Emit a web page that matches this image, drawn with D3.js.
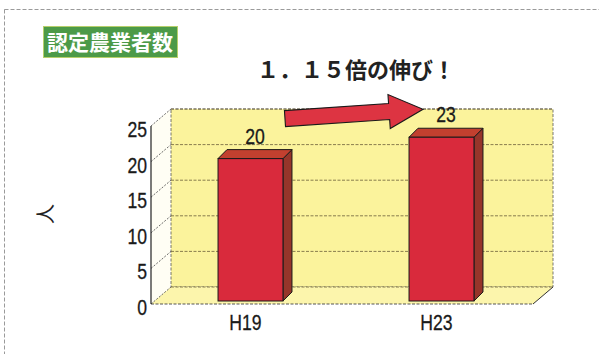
<!DOCTYPE html>
<html><head><meta charset="utf-8">
<script src="https://cdn.jsdelivr.net/npm/d3@7"></script>
<style>html,body{margin:0;padding:0;background:#fff;}svg{display:block;}</style>
</head><body>
<script>
const categories = ["H19", "H23"];
const values = [20, 23];
const yTicks = [0, 5, 10, 15, 20, 25];
const boxTitle = "認定農業者数";
const chartTitle = "１．１５倍の伸び！";
const yTitle = "人";

const W = 599, H = 354;
const svg = d3.select("body").append("svg").attr("width", W).attr("height", H);

// outer dashed frame
svg.append("rect").attr("x", 4.5).attr("y", 9.5).attr("width", 640).attr("height", 400)
  .attr("fill", "none").attr("stroke", "#9a9a9a").attr("stroke-dasharray", "4,2");

// 3D geometry
const DX = 20, DY = -17;
const x = d3.scaleBand().domain(categories).range([151, 533]).paddingInner(0.66).paddingOuter(0.33);
const y = d3.scaleLinear().domain([0, 25]).range([304, 126]);
const x0 = 151, x1 = 533;

const g = svg.append("g");
const yellow = "#fbf39c";

// condensed text helper (Arial-Narrow-like)
function narrow(parent, px, py, anchor, txt) {
  return parent.append("text")
    .attr("transform", `translate(${px},${py}) scale(0.8,1)`)
    .attr("text-anchor", anchor)
    .attr("font-family", "'Liberation Sans',Arial,sans-serif")
    .attr("font-size", 22).attr("fill", "#1a1a1a")
    .attr("stroke", "#1a1a1a").attr("stroke-width", 0.3).text(txt);
}

// side wall (white)
g.append("path").attr("d", d3.line()([[x0, y(0)], [x0 + DX, y(0) + DY], [x0 + DX, y(25) + DY], [x0, y(25)]]) + "Z")
  .attr("fill", "#fffef4").attr("stroke", "none");
// back wall
g.append("rect").attr("x", x0 + DX).attr("y", y(25) + DY).attr("width", x1 - x0).attr("height", y(0) - y(25))
  .attr("fill", yellow).attr("stroke", "#555").attr("stroke-width", 0.8).attr("stroke-dasharray", "3,1.5");
// floor
g.append("path").attr("d", d3.line()([[x0, y(0)], [x0 + DX, y(0) + DY], [x1 + DX, y(0) + DY], [x1, y(0)]]) + "Z")
  .attr("fill", "#fcf5ac").attr("stroke", "none");
g.append("line").attr("x1", x0).attr("x2", x1).attr("y1", y(0)).attr("y2", y(0))
  .attr("stroke", "#444").attr("stroke-width", 0.9).attr("stroke-dasharray", "3,1.5");
g.append("line").attr("x1", x1).attr("x2", x1 + DX).attr("y1", y(0)).attr("y2", y(0) + DY)
  .attr("stroke", "#333").attr("stroke-width", 1);

// gridlines on back wall and side wall diagonals
yTicks.forEach(v => {
  g.append("line").attr("x1", x0 + DX).attr("x2", x1 + DX).attr("y1", y(v) + DY).attr("y2", y(v) + DY)
    .attr("stroke", "#6b5e3a").attr("stroke-width", 0.8).attr("stroke-dasharray", "3,1.5");
  g.append("line").attr("x1", x0).attr("x2", x0 + DX).attr("y1", y(v)).attr("y2", y(v) + DY)
    .attr("stroke", "#444").attr("stroke-width", 0.8).attr("stroke-dasharray", "2,1.5");
});
// front axis
g.append("line").attr("x1", x0).attr("x2", x0).attr("y1", y(0)).attr("y2", y(25))
  .attr("stroke", "#222").attr("stroke-width", 1.2);

// tick labels
yTicks.forEach(v => narrow(g, 147, y(v) + 11, "end", v));

// bars
const OX = 4, OY = -3, BDX = 9, BDY = -9;
const bw = x.bandwidth();
const bars = g.selectAll("g.bar").data(values.map((v, i) => ({ c: categories[i], v }))).join("g").attr("class", "bar");
bars.each(function (d) {
  const s = d3.select(this);
  const L = x(d.c) + OX, R = L + bw, T = y(d.v) + OY, B = y(0) + OY;
  s.append("path").attr("d", d3.line()([[R, B], [R + BDX, B + BDY], [R + BDX, T + BDY], [R, T]]) + "Z")
    .attr("fill", "#96352a").attr("stroke", "#1a1a1a").attr("stroke-width", 1).attr("stroke-linejoin", "round");
  s.append("path").attr("d", d3.line()([[L, T], [L + BDX, T + BDY], [R + BDX, T + BDY], [R, T]]) + "Z")
    .attr("fill", "#c2402f").attr("stroke", "#1a1a1a").attr("stroke-width", 1).attr("stroke-linejoin", "round");
  s.append("rect").attr("x", L).attr("y", T).attr("width", bw).attr("height", B - T)
    .attr("fill", "#d92a3c").attr("stroke", "#1a1a1a").attr("stroke-width", 1);
  narrow(s, L + bw / 2 + BDX / 2, T + BDY - 6, "middle", d.v);
});

// category labels
categories.forEach(c => narrow(g, x(c) + bw / 2 - 1, 330, "middle", c));

// arrow from bar1 to bar2
(function () {
  const tailX = x(categories[0]) + bw + OX + 2, tailY = y(values[0]) - 43;
  const tipX = x(categories[1]) + OX + 14, tipY = y(values[1]) - 31;
  const ang = Math.atan2(tipY - tailY, tipX - tailX) * 180 / Math.PI;
  const len = Math.hypot(tipX - tailX, tipY - tailY);
  const sw = 8, hw = 17, hl = 34;
  const pts = [[0, -sw], [len - hl, -sw], [len - hl, -hw], [len, 0], [len - hl, hw], [len - hl, sw], [0, sw]];
  g.append("path").attr("d", d3.line()(pts) + "Z")
    .attr("transform", `translate(${tailX},${tailY}) rotate(${ang})`)
    .attr("fill", "#dd3442").attr("stroke", "#1a1a1a").attr("stroke-width", 1.1).attr("stroke-linejoin", "miter");
})();

// chart title
svg.append("text").attr("x", 257).attr("y", 78).attr("font-family", "'Noto Sans CJK JP',sans-serif")
  .attr("font-weight", 700).attr("font-size", 22).attr("fill", "#222").text(chartTitle);

// green box title
svg.append("rect").attr("x", 43.5).attr("y", 26.5).attr("width", 134).attr("height", 31)
  .attr("fill", "#4c9a48").attr("stroke", "#b6cf6a").attr("stroke-width", 1);
svg.append("text").attr("x", 110).attr("y", 50).attr("text-anchor", "middle")
  .attr("font-family", "'Noto Sans CJK JP',sans-serif").attr("font-weight", 700).attr("font-size", 21)
  .attr("fill", "#fff").text(boxTitle);

// y title
svg.append("text").attr("transform", "translate(44,214) rotate(-90)").attr("text-anchor", "middle")
  .attr("dominant-baseline", "central")
  .attr("font-family", "'Noto Sans CJK JP',sans-serif").attr("font-size", 20).attr("fill", "#222").text(yTitle);
</script>
</body></html>
